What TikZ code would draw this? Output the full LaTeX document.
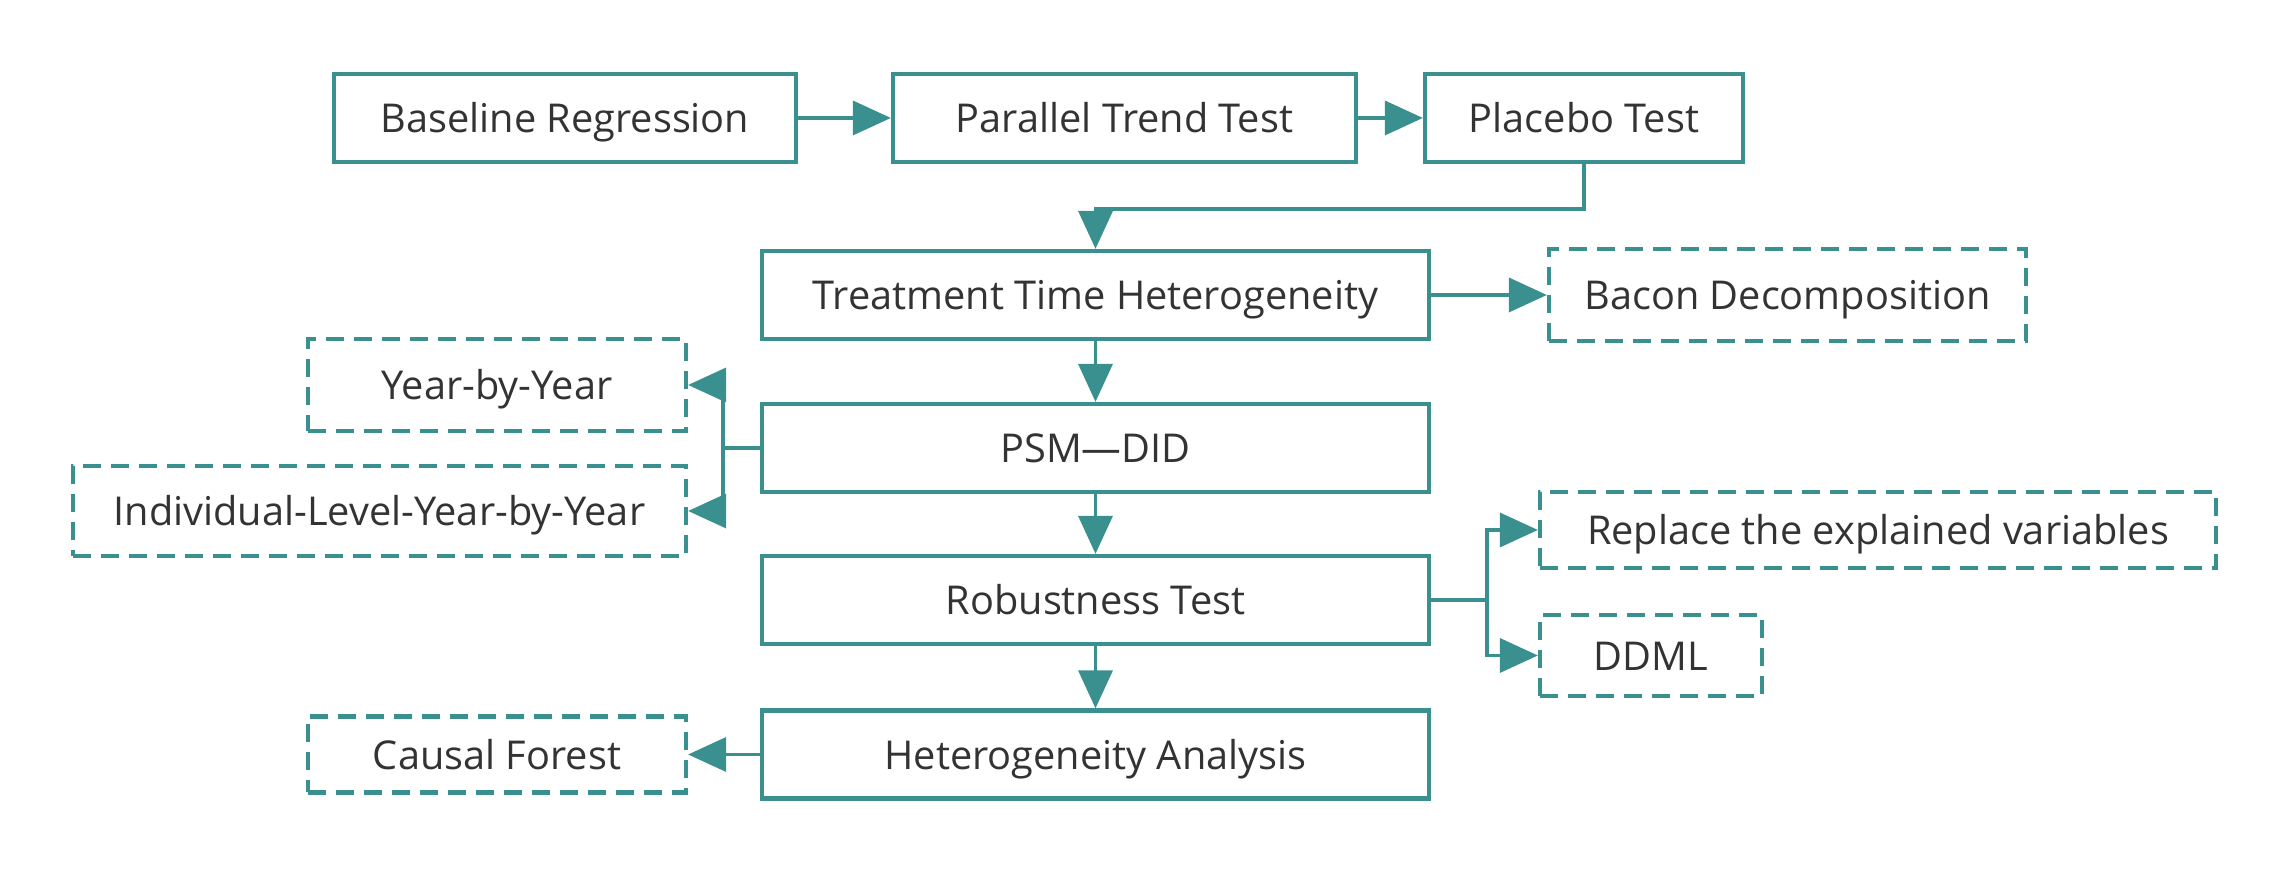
\documentclass[tikz,border=0pt]{standalone}
\usepackage{fontspec}
\setmainfont{Open Sans}
\usetikzlibrary{arrows.meta}

\definecolor{teal1}{HTML}{3A8F8F}
\definecolor{ink}{HTML}{333333}

\begin{document}
\begin{tikzpicture}[
  semithick,
  >={Triangle[length=0.38cm,width=0.34cm]},
  font=\fontsize{11.3}{14}\selectfont,
  box/.style={rectangle,draw=teal1,line width=1.2pt,text=ink,
    minimum height=0.88cm,inner sep=0pt,text height=0.36cm,text depth=0.06cm},
  sidebox/.style={box,dash pattern=on 0.18cm off 0.1cm},
  link/.style={color=teal1,line width=1pt}
]
  \useasboundingbox (0,0) rectangle (22.89,8.73);
  % main chain
  \node[box,minimum width=4.62cm](base) at (5.65,7.55){Baseline Regression};
  \node[box,minimum width=4.63cm](trend) at (11.245,7.55){Parallel Trend Test};
  \node[box,minimum width=3.18cm](placebo) at (15.84,7.55){Placebo Test};
  \node[box,minimum width=6.67cm](tth) at (10.955,5.78){Treatment Time Heterogeneity};
  \node[box,minimum width=6.67cm](psm) at (10.955,4.25){PSM—DID};
  \node[box,minimum width=6.67cm](rob) at (10.955,2.73){Robustness Test};
  \node[box,minimum width=6.67cm](het) at (10.955,1.185){Heterogeneity Analysis};
  % side checks
  \node[sidebox,minimum width=4.77cm,minimum height=0.92cm](bacon) at (17.875,5.78){Bacon Decomposition};
  \node[sidebox,minimum width=3.78cm,minimum height=0.92cm](yby) at (4.97,4.88){Year-by-Year};
  \node[sidebox,minimum width=6.13cm,minimum height=0.9cm](ind) at (3.795,3.62){Individual-Level-Year-by-Year};
  \node[sidebox,minimum width=6.76cm,minimum height=0.76cm](repl) at (18.78,3.43){Replace the explained variables};
  \node[sidebox,minimum width=2.22cm,minimum height=0.81cm](ddml) at (16.51,2.175){DDML};
  \node[sidebox,minimum width=3.78cm,minimum height=0.76cm](forest) at (4.97,1.185){Causal Forest};
  \coordinate (psmfork) at ([xshift=-0.37cm]psm.west);
  \coordinate (robfork) at ([xshift=0.56cm]rob.east);
  \path[->,link]
    (base) edge (trend)
    (trend) edge (placebo)
    (tth) edge (bacon)
    (tth) edge (psm)
    (psm) edge (rob)
    (rob) edge (het)
    (het) edge (forest)
  ;
  \draw[->,link] (placebo.south) -- ++(0,-0.45) -| (tth.north);
  \draw[->,link] (psm.west) -- (psmfork) |- (yby.east);
  \draw[->,link] (psmfork) |- (ind.east);
  \draw[->,link] (rob.east) -- (robfork) |- (repl.west);
  \draw[->,link] (robfork) |- (ddml.west);
\end{tikzpicture}
\end{document}
